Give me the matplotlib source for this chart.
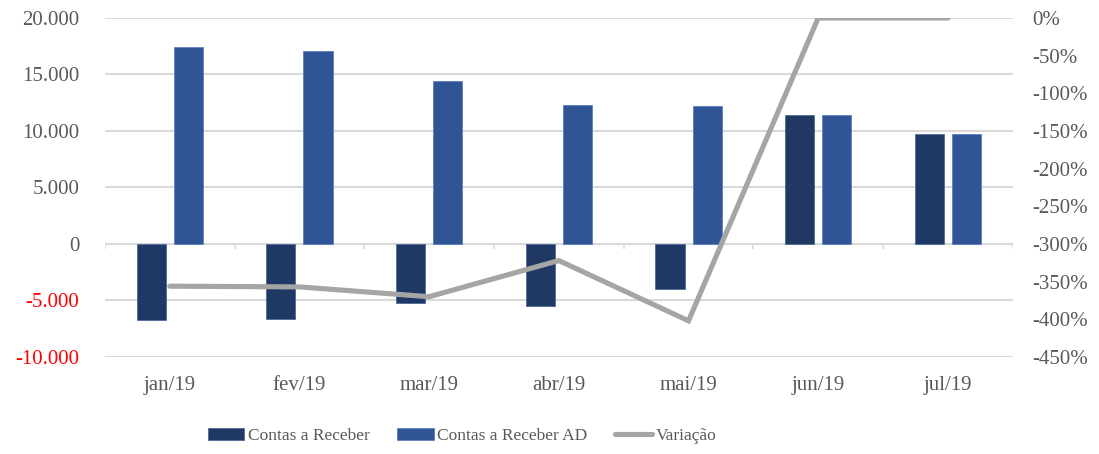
import numpy as np
import matplotlib
matplotlib.use("Agg")
import matplotlib.pyplot as plt
from matplotlib.ticker import FuncFormatter

meses = ["jan/19", "fev/19", "mar/19", "abr/19", "mai/19", "jun/19", "jul/19"]
contas_receber = [-6700, -6600, -5200, -5500, -4000, 11400, 9700]
contas_receber_ad = [17400, 17100, 14400, 12300, 12200, 11400, 9700]
variacao = [-356, -357, -370, -322, -402, 0, 0]

plt.rcParams['font.family'] = ['Liberation Serif', 'DejaVu Serif']
cinza = '#595959'

fig = plt.figure(figsize=(10.99, 4.54), dpi=100)
ax = fig.add_axes([0.0955, 0.2137, 0.826, 0.7467])
x = np.arange(len(meses))
w = 0.224
off = 0.143

b1 = ax.bar(x - off, contas_receber, w, color='#1f3864', edgecolor='#4a6a9a', linewidth=0.6,
            label='Contas a Receber', zorder=3)
b2 = ax.bar(x + off, contas_receber_ad, w, color='#2f5597', edgecolor='#5b7fbf', linewidth=0.6,
            label='Contas a Receber AD', zorder=3)

ax.set_xlim(-0.5, len(meses) - 0.5)
ax.set_ylim(-10000, 20000)
ax.set_yticks(np.arange(-10000, 20001, 5000))
ax.yaxis.set_major_formatter(FuncFormatter(lambda v, p: f"{int(v):,}".replace(',', '.')))
ax.grid(axis='y', color='#d9d9d9', linewidth=1.5, zorder=0)
ax.axhline(0, color='#d9d9d9', linewidth=1.5, zorder=1)
ax.vlines(np.arange(-0.5, len(meses)), 0, -450, color='#d9d9d9', linewidth=1.2, zorder=1)
for s in ax.spines.values():
    s.set_visible(False)
ax.set_xticks(x)
ax.set_xticklabels(meses)
ax.tick_params(axis='both', length=0, labelsize=15, labelcolor=cinza)
ax.tick_params(axis='x', pad=14)
ax.tick_params(axis='y', pad=18.5)
for lbl, v in zip(ax.get_yticklabels(), ax.get_yticks()):
    if v < 0:
        lbl.set_color('#ff0000')

ax2 = ax.twinx()
ln, = ax2.plot(x, variacao, color='#a5a5a5', linewidth=3.7, solid_capstyle='round',
               solid_joinstyle='miter', label='Variação', zorder=4)
ax2.set_ylim(-450, 0)
ax2.set_yticks(np.arange(-450, 1, 50))
ax2.yaxis.set_major_formatter(FuncFormatter(lambda v, p: f"{int(v)}%"))
for s in ax2.spines.values():
    s.set_visible(False)
ax2.tick_params(axis='y', length=0, labelsize=15, labelcolor=cinza, pad=14)

fig.legend(handles=[b1, b2, ln], loc='center left', bbox_to_anchor=(0.175, 0.04), ncol=3,
           frameon=False, fontsize=12.5, labelcolor=cinza, handlelength=2.1, handleheight=0.7,
           handletextpad=0.2, columnspacing=1.6)

fig.savefig('out.png', dpi=100)
